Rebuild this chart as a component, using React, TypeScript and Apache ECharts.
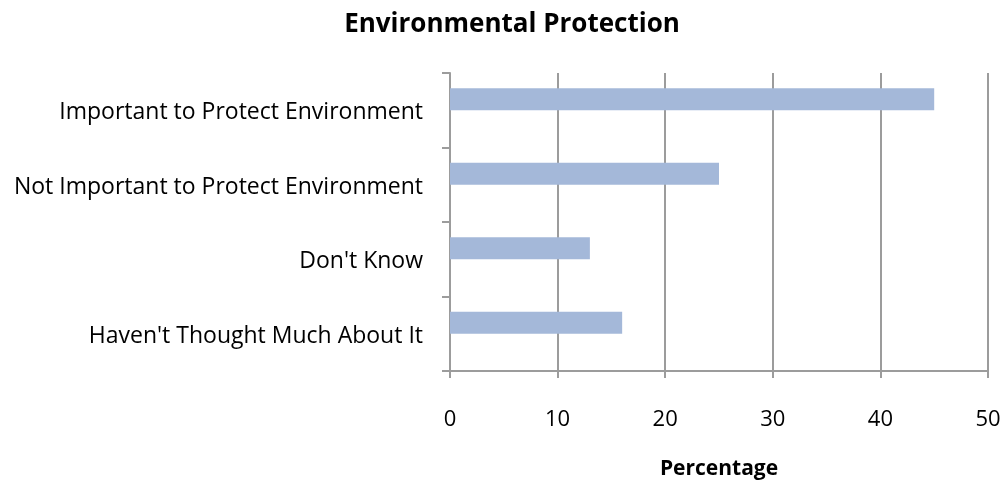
import React, { useEffect, useRef } from "react";
import * as echarts from "echarts";

const categories = [
  "Important to Protect Environment",
  "Not Important to Protect Environment",
  "Don't Know",
  "Haven't Thought Much About It",
];
const percentages = [45, 25, 13, 16];
const xTicks = { min: 0, max: 50, interval: 10 };

const FONT = "'Open Sans', 'Noto Sans', sans-serif";
const AXIS_GRAY = "#9c9c9c";

export default function App() {
  const ref = useRef<HTMLDivElement>(null);

  useEffect(() => {
    if (!ref.current) return;
    const chart = echarts.init(ref.current, undefined, { renderer: "svg" });
    chart.setOption({
      animation: false,
      title: {
        text: "Environmental Protection",
        left: 507,
        top: 4,
        textAlign: "center",
        textStyle: { fontFamily: FONT, fontSize: 26, fontWeight: "bold", color: "#000" },
      },
      grid: { left: 450, right: 16, top: 73, bottom: 111 },
      xAxis: {
        type: "value",
        min: xTicks.min,
        max: xTicks.max,
        interval: xTicks.interval,
        name: "Percentage",
        nameLocation: "middle",
        nameGap: 85,
        nameTextStyle: { fontFamily: FONT, fontSize: 21, fontWeight: "bold", color: "#000" },
        axisLine: { show: true, lineStyle: { color: AXIS_GRAY, width: 2 } },
        axisTick: { show: true, length: 7, lineStyle: { color: AXIS_GRAY, width: 2 } },
        axisLabel: { fontFamily: FONT, fontSize: 22, color: "#000", margin: 35 },
        splitLine: { show: true, lineStyle: { color: AXIS_GRAY, width: 2 } },
      },
      yAxis: {
        type: "category",
        data: categories,
        inverse: true,
        axisLine: { show: true, lineStyle: { color: AXIS_GRAY, width: 2 } },
        axisTick: { show: true, length: 8, lineStyle: { color: AXIS_GRAY, width: 2 } },
        axisLabel: { fontFamily: FONT, fontSize: 23, color: "#000", margin: 27 },
        splitLine: { show: false },
      },
      series: [
        {
          type: "bar",
          data: percentages,
          barWidth: 22,
          barGap: "0%",
          itemStyle: { color: "#a4b8d9" },
        },
        {
          type: "bar",
          data: categories.map(() => null),
          barWidth: 22,
          barGap: "0%",
        },
      ],
    });
    return () => chart.dispose();
  }, []);

  return (
    <div
      ref={ref}
      style={{ position: "fixed", left: 0, top: 0, width: 1004, height: 482 }}
    />
  );
}
